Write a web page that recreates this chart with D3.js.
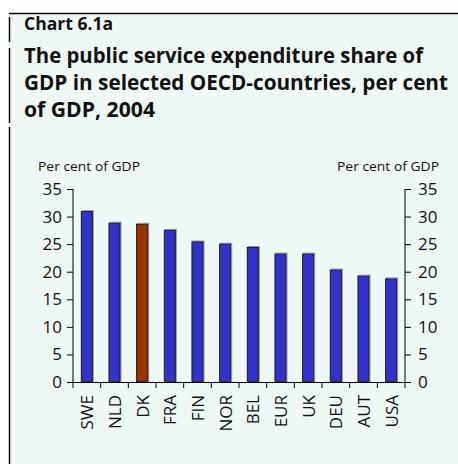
<!DOCTYPE html>
<html>
<head>
<meta charset="utf-8">
<script src="https://cdn.jsdelivr.net/npm/d3@7"></script>
<style>
  html, body { margin: 0; padding: 0; background: #ffffff; }
  svg { display: block; }
  text { font-family: "Open Sans", "Noto Sans", sans-serif; fill: #111; }
</style>
</head>
<body>
<svg id="chart" width="458" height="464"></svg>
<script>
// Public service expenditure, per cent of GDP, 2004
const countries = ["SWE", "NLD", "DK", "FRA", "FIN", "NOR", "BEL", "EUR", "UK", "DEU", "AUT", "USA"];
const shares = [30.9, 28.8, 28.6, 27.5, 25.4, 25.0, 24.4, 23.2, 23.2, 20.3, 19.2, 18.7];
const highlighted = ["DK"];
const yTicks = [0, 5, 10, 15, 20, 25, 30, 35];
const titleLines = [
  "The public service expenditure share of",
  "GDP in selected OECD-countries, per cent",
  "of GDP, 2004"
];

const svg = d3.select("#chart");
const W = 458, H = 464;

// panel background and frame
svg.append("rect").attr("x", 9).attr("y", 13).attr("width", W - 9).attr("height", H - 13)
  .attr("fill", "#f0f8f5");
svg.append("line").attr("x1", 9).attr("x2", W).attr("y1", 13.5).attr("y2", 13.5)
  .attr("stroke", "#000").attr("stroke-width", 1.5);
[[17, 42], [48, 123], [127, H]].forEach(([a, b]) => {
  svg.append("line").attr("x1", 9.5).attr("x2", 9.5).attr("y1", a).attr("y2", b)
    .attr("stroke", "#000").attr("stroke-width", 1.5);
});

// headings
svg.append("text").attr("x", 24).attr("y", 30)
  .attr("font-size", 18.5).attr("font-weight", 700)
  .attr("textLength", 89).attr("lengthAdjust", "spacingAndGlyphs")
  .text("Chart 6.1a");
const lineWidths = [399, 424, 131];
titleLines.forEach((t, i) => {
  svg.append("text").attr("x", 24).attr("y", 63 + i * 26.8)
    .attr("font-size", 20.5).attr("font-weight", 700)
    .attr("textLength", lineWidths[i]).attr("lengthAdjust", "spacingAndGlyphs")
    .text(t);
});

// plot geometry
const plotLeft = 73, plotRight = 405, plotTop = 189, plotBottom = 382;

const x = d3.scaleBand().domain(countries).range([plotLeft, plotRight]).paddingInner(0.6).paddingOuter(0.3);
const y = d3.scaleLinear().domain([0, 35]).range([plotBottom, plotTop]);

// axis unit labels
svg.append("text").attr("x", 38).attr("y", 171).attr("font-size", 13)
  .attr("textLength", 102).attr("lengthAdjust", "spacingAndGlyphs")
  .text("Per cent of GDP");
svg.append("text").attr("x", 337).attr("y", 171).attr("font-size", 13)
  .attr("textLength", 102).attr("lengthAdjust", "spacingAndGlyphs")
  .text("Per cent of GDP");

// bars, each with a thin grey edge offset up-right
const bars = svg.append("g");
bars.selectAll("rect.edge").data(countries).join("rect").attr("class", "edge")
  .attr("x", d => x(d) + 1)
  .attr("width", x.bandwidth())
  .attr("y", (d, i) => y(shares[i]) - 1)
  .attr("height", (d, i) => y(0) - y(shares[i]) + 1)
  .attr("fill", "none")
  .attr("stroke", "#999")
  .attr("stroke-width", 1);
bars.selectAll("rect.bar").data(countries).join("rect").attr("class", "bar")
  .attr("x", d => x(d))
  .attr("width", x.bandwidth())
  .attr("y", (d, i) => y(shares[i]))
  .attr("height", (d, i) => y(0) - y(shares[i]))
  .attr("fill", d => highlighted.includes(d) ? "#993300" : "#3333cc")
  .attr("stroke", "#1a1a1a")
  .attr("stroke-width", 1);

// y axes
const yLeft = svg.append("g").attr("transform", `translate(${plotLeft},0)`)
  .call(d3.axisLeft(y).tickValues(yTicks).tickSize(6).tickPadding(5));
const yRight = svg.append("g").attr("transform", `translate(${plotRight},0)`)
  .call(d3.axisRight(y).tickValues(yTicks).tickSize(6).tickPadding(7));
[yLeft, yRight].forEach(g => {
  g.select(".domain").attr("stroke", "#000").attr("d", `M0,${plotTop}V${plotBottom}`);
  g.selectAll(".tick line").attr("stroke", "#000");
  g.selectAll(".tick text").attr("font-size", 17).attr("font-family", "Open Sans, sans-serif")
    .attr("fill", "#111");
});

// x axis: baseline with ticks between categories
const xAxis = svg.append("g");
xAxis.append("line").attr("x1", plotLeft - 6).attr("x2", plotRight)
  .attr("y1", plotBottom + 0.5).attr("y2", plotBottom + 0.5)
  .attr("stroke", "#000");
const boundaries = d3.range(countries.length + 1)
  .map(i => plotLeft + i * (plotRight - plotLeft) / countries.length);
xAxis.selectAll("line.tk").data(boundaries).join("line").attr("class", "tk")
  .attr("x1", d => d).attr("x2", d => d)
  .attr("y1", plotBottom).attr("y2", plotBottom + 6)
  .attr("stroke", "#000");
xAxis.selectAll("text").data(countries).join("text")
  .attr("transform", d => `translate(${x(d) + x.bandwidth() / 2 + 6.5},${plotBottom + 13}) rotate(-90)`)
  .attr("text-anchor", "end")
  .attr("font-size", 17)
  .text(d => d);
</script>
</body>
</html>
